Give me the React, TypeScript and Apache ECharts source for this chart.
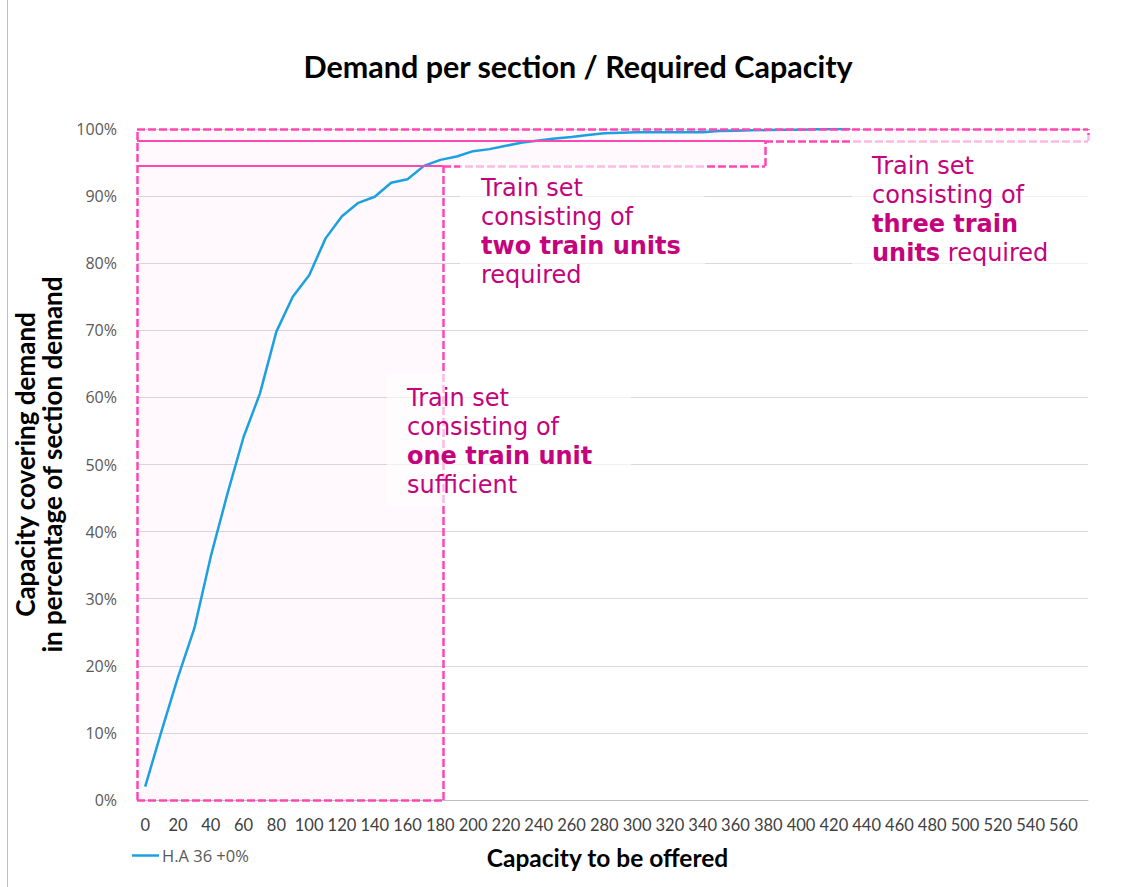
import React, { useEffect, useRef } from "react";
import * as echarts from "echarts";

const capacities = [0, 10, 20, 30, 40, 50, 60, 70, 80, 90, 100, 110, 120, 130, 140, 150, 160, 170, 180, 190, 200, 210, 220, 230, 240, 250, 260, 270, 280, 290, 300, 310, 320, 330, 340, 350, 360, 370, 380, 390, 400, 410, 420, 430];
const coverage = [2.0, 10.3, 18.3, 25.6, 36.3, 45.5, 54.1, 60.6, 69.8, 75.0, 78.2, 83.7, 87.0, 89.0, 89.9, 92.0, 92.5, 94.5, 95.4, 95.9, 96.7, 97.0, 97.5, 98.0, 98.3, 98.6, 98.8, 99.1, 99.35, 99.45, 99.5, 99.5, 99.5, 99.5, 99.5, 99.7, 99.75, 99.8, 99.85, 99.9, 99.9, 99.95, 100.0, 100.0];
const xTicks = [0, 20, 40, 60, 80, 100, 120, 140, 160, 180, 200, 220, 240, 260, 280, 300, 320, 340, 360, 380, 400, 420, 440, 460, 480, 500, 520, 540, 560];
const xMin = -5;
const xMax = 575;
const boxRight = [181.6, 378, 575];
const boxTop = [94.5, 98.2, 100];
const seriesName = "H.A 36 +0%";

const PINK = "#FF47B3";
const TEXT_PINK = "#C4037C";

export default function App() {
  const ref = useRef<HTMLDivElement>(null);
  useEffect(() => {
    if (!ref.current) return;
    const chart = echarts.init(ref.current, null, { renderer: "svg" });
    const dashed = { color: PINK, width: 2.5, type: [8, 3] as any };
    const solid = { color: PINK, width: 2.2, type: "solid" as any };
    const seg = (x1: number, y1: number, x2: number, y2: number, style: any) => [
      { coord: [x1, y1], lineStyle: style },
      { coord: [x2, y2] },
    ];
    const textBox = (x: number, y: number, lines: string) => ({
      type: "text",
      x,
      y,
      z: 101,
      style: {
        text: lines,
        fill: TEXT_PINK,
        fontFamily: "DejaVu Sans",
        fontSize: 24,
        lineHeight: 29,
        rich: {
          b: {
            fontFamily: "DejaVu Sans",
            fontSize: 24,
            fontWeight: "bold",
            lineHeight: 29,
            fill: TEXT_PINK,
          },
        },
      },
    });
    const whiteRect = (x: number, y: number, w: number, h: number) => ({
      type: "rect",
      z: 100,
      shape: { x, y, width: w, height: h },
      style: { fill: "rgba(255,255,255,0.62)" },
    });
    chart.setOption({
      animation: false,
      title: {
        text: "Demand per section / Required Capacity",
        left: 573,
        textAlign: "center",
        top: 45,
        textStyle: { fontFamily: "Lato", fontWeight: "bold", fontSize: 30.5, color: "#000" },
      },
      legend: {
        data: [seriesName],
        left: 127,
        top: 842,
        icon: "rect",
        itemWidth: 27,
        itemHeight: 2.5,
        itemGap: 10,
        textStyle: { fontFamily: "Open Sans", fontSize: 16.5, color: "#595959", padding: [0, 0, 0, -2] },
      },
      grid: { left: 137, right: 50, top: 129, bottom: 87, containLabel: false, outerBoundsMode: "none" },
      xAxis: {
        type: "value",
        min: xMin,
        max: xMax,
        name: "Capacity to be offered",
        nameLocation: "middle",
        nameGap: 45,
        nameTextStyle: { fontFamily: "Lato", fontWeight: "bold", fontSize: 24.5, color: "#000", padding: [0, 10, 0, 0] },
        axisLine: { show: true, lineStyle: { color: "#bfbfbf", width: 1 } },
        axisTick: { show: false },
        splitLine: { show: false },
        axisLabel: {
          customValues: xTicks,
          margin: 16,
          fontFamily: "Lato",
          fontSize: 16.5,
          color: "#404040",
        },
      },
      yAxis: {
        type: "value",
        min: 0,
        max: 100,
        interval: 10,
        name: "Capacity covering demand\nin percentage of section demand",
        nameLocation: "middle",
        nameRotate: 90,
        nameGap: 67,
        nameTextStyle: { fontFamily: "Lato", fontWeight: "bold", fontSize: 26, color: "#000", lineHeight: 27 },
        axisLine: { show: false },
        axisTick: { show: false },
        splitLine: { lineStyle: { color: "#d9d9d9", width: 1 } },
        axisLabel: {
          formatter: "{value}%",
          margin: 20,
          fontFamily: "Open Sans",
          fontSize: 16,
          color: "#595959",
        },
      },
      series: [
        {
          name: seriesName,
          type: "line",
          data: capacities.map((c, i) => [c, coverage[i]]),
          symbol: "none",
          smooth: false,
          lineStyle: { color: "#1BA0E0", width: 2.5 },
          itemStyle: { color: "#1BA0E0" },
          z: 3,
          markArea: {
            silent: true,
            itemStyle: { color: "rgba(255,60,170,0.035)" },
            label: { show: false },
            data: [
              [{ coord: [xMin, 0] }, { coord: [boxRight[0], boxTop[0]] }],
              [{ coord: [xMin, boxTop[0]] }, { coord: [boxRight[1], boxTop[1]] }],
              [{ coord: [xMin, boxTop[1]] }, { coord: [boxRight[2], boxTop[2]] }],
            ],
          },
          markLine: {
            silent: true,
            symbol: ["none", "none"],
            label: { show: false },
            emphasis: { disabled: true },
            data: [
              seg(xMin, 0, xMin, boxTop[2], dashed),
              seg(xMin, 0, boxRight[0], 0, dashed),
              seg(boxRight[0], 0, boxRight[0], boxTop[0], dashed),
              seg(xMin, boxTop[0], boxRight[0], boxTop[0], solid),
              seg(boxRight[0], boxTop[0], boxRight[1], boxTop[0], dashed),
              seg(boxRight[1], boxTop[0], boxRight[1], boxTop[1], dashed),
              seg(xMin, boxTop[1], boxRight[1], boxTop[1], solid),
              seg(boxRight[1], boxTop[1], boxRight[2], boxTop[1], dashed),
              seg(boxRight[2], boxTop[1], boxRight[2], boxTop[2], dashed),
              seg(xMin, boxTop[2], boxRight[2], boxTop[2], dashed),
            ],
          },
        },
      ],
      graphic: [
        { type: "line", z: 100, shape: { x1: 7.5, y1: 0, x2: 7.5, y2: 887 }, style: { stroke: "#bfbfbf", lineWidth: 1 } },
        whiteRect(460, 162, 245, 134),
        whiteRect(387, 374, 244, 132),
        whiteRect(852, 135, 240, 137),
        textBox(481, 173, "Train set\nconsisting of\n{b|two train units}\nrequired"),
        textBox(407, 383, "Train set\nconsisting of\n{b|one train unit}\nsufficient"),
        textBox(872, 151, "Train set\nconsisting of\n{b|three train}\n{b|units} required"),
      ],
    });
    return () => chart.dispose();
  }, []);
  return (
    <div
      ref={ref}
      style={{ position: "fixed", left: 0, top: 0, width: 1138, height: 887, background: "#fff" }}
    />
  );
}
